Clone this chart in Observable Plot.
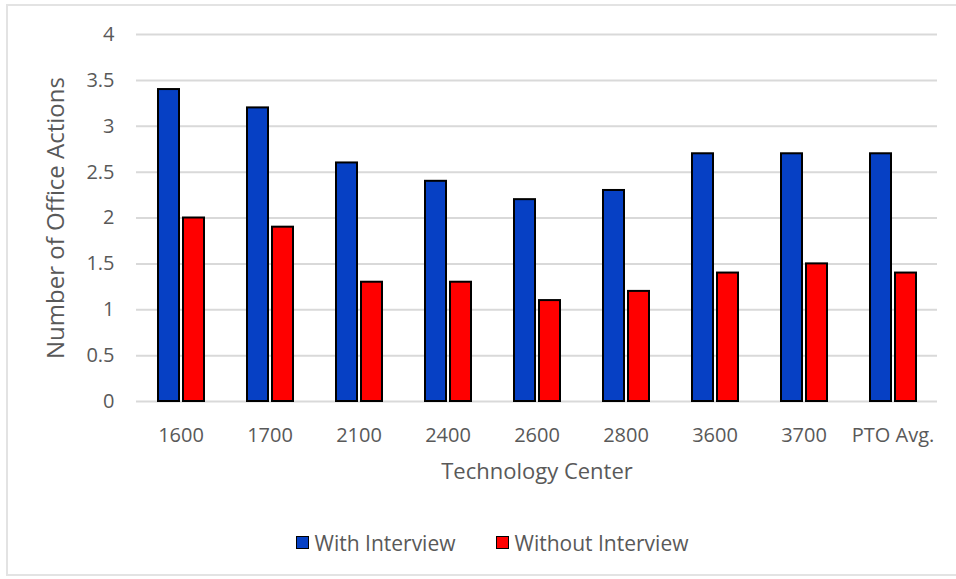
<!DOCTYPE html>
<html>
<head>
<meta charset="utf-8">
<script src="https://cdn.jsdelivr.net/npm/d3@7"></script>
<script src="https://cdn.jsdelivr.net/npm/@observablehq/plot@0.6"></script>
<style>
  html, body { margin: 0; padding: 0; background: #fff; }
  #wrap { position: relative; width: 956px; height: 579px; overflow: hidden; font-family: "Open Sans", sans-serif; }
  #frame { position: absolute; left: 6px; top: 4px; width: 960px; height: 572px; border: 2px solid #e3e3e3; box-sizing: border-box; }
  #chart { position: absolute; left: 0; top: 0; }
  #legend { position: absolute; left: 14px; top: 527px; width: 956px; text-align: center; font-size: 21px; color: #595959; }
  .item { display: inline-flex; align-items: center; margin: 0 20px; }
  .sw { width: 11px; height: 11px; border: 1.5px solid #000; margin-right: 6px; }
</style>
</head>
<body>
<div id="wrap">
  <div id="frame"></div>
  <div id="chart"></div>
  <div id="legend"></div>
</div>
<script>
const categories = ["1600", "1700", "2100", "2400", "2600", "2800", "3600", "3700", "PTO Avg."];
const withInterview = [3.4, 3.2, 2.6, 2.4, 2.2, 2.3, 2.7, 2.7, 2.7];
const withoutInterview = [2.0, 1.9, 1.3, 1.3, 1.1, 1.2, 1.4, 1.5, 1.4];
const seriesNames = ["With Interview", "Without Interview"];
const seriesColors = ["#0640c4", "#ff0000"];
const yTicks = [0, 0.5, 1, 1.5, 2, 2.5, 3, 3.5, 4];

const data = [];
categories.forEach((c, i) => {
  data.push({center: c, series: seriesNames[0], value: withInterview[i]});
  data.push({center: c, series: seriesNames[1], value: withoutInterview[i]});
});

const chart = Plot.plot({
  width: 956,
  height: 500,
  marginTop: 34,
  marginBottom: 99,
  marginLeft: 135,
  marginRight: 18,
  style: {fontFamily: "Open Sans, sans-serif", fontSize: "20px", color: "#595959", background: "transparent"},
  fx: {domain: categories, padding: 0},
  x: {domain: seriesNames, paddingInner: 0.16, paddingOuter: 0.86, axis: null},
  y: {domain: [0, 4], ticks: yTicks},
  color: {domain: seriesNames, range: seriesColors},
  marks: [
    Plot.gridY(yTicks, {stroke: "#d9d9d9", strokeOpacity: 1, strokeWidth: 2}),
    Plot.axisY(yTicks, {tickSize: 0, tickPadding: 22, tickFormat: d => String(d), label: "Number of Office Actions", labelAnchor: "center", labelArrow: "none", labelOffset: 90, fontSize: 20}),
    Plot.axisFx({anchor: "bottom", tickSize: 0, tickPadding: 26, label: "Technology Center", labelAnchor: "center", labelArrow: "none", labelOffset: 77, fontSize: 20}),
    Plot.barY(data, {fx: "center", x: "series", y: "value", fill: "series", stroke: "#000", strokeWidth: 2})
  ]
});
document.getElementById("chart").appendChild(chart);

// enlarge the axis titles to match the reference
chart.querySelectorAll("g[aria-label='y-axis label'] text").forEach(t => {
  t.setAttribute("font-size", "24");
  t.style.fontSize = "24px";
});
chart.querySelectorAll("g[aria-label='fx-axis label'] text").forEach(t => {
  t.setAttribute("font-size", "22");
  t.style.fontSize = "22px";
});

const legend = document.getElementById("legend");
seriesNames.forEach((s, i) => {
  const item = document.createElement("span");
  item.className = "item";
  const sw = document.createElement("span");
  sw.className = "sw";
  sw.style.background = seriesColors[i];
  item.appendChild(sw);
  item.appendChild(document.createTextNode(s));
  legend.appendChild(item);
});
</script>
</body>
</html>
